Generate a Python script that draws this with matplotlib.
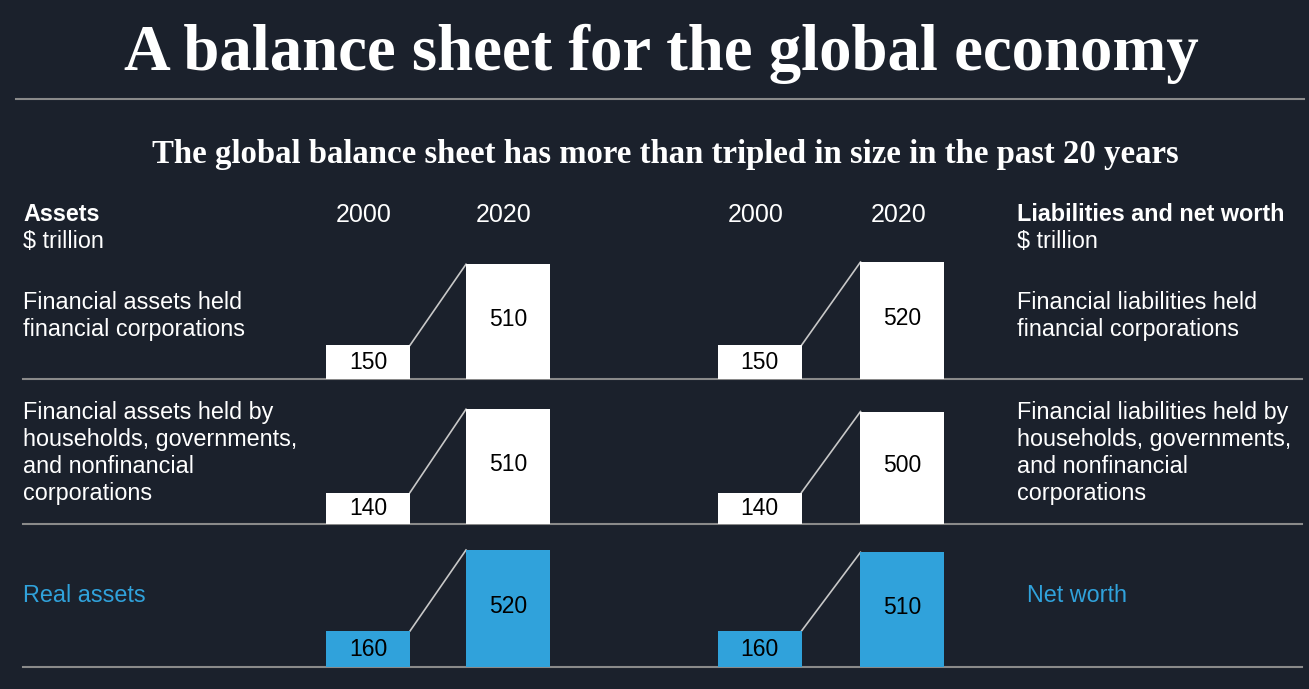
import matplotlib
matplotlib.use("Agg")
import matplotlib.pyplot as plt

# ---- data ($ trillion) ----
row_labels_left = [
    "Financial assets held\nfinancial corporations",
    "Financial assets held by\nhouseholds, governments,\nand nonfinancial\ncorporations",
    "Real assets",
]
row_labels_right = [
    "Financial liabilities held\nfinancial corporations",
    "Financial liabilities held by\nhouseholds, governments,\nand nonfinancial\ncorporations",
    "Net worth",
]
years = ["2000", "2020"]
assets_2000 = [150, 140, 160]
assets_2020 = [510, 510, 520]
liab_2000 = [150, 140, 160]
liab_2020 = [520, 500, 510]

# ---- style ----
W, H = 1309, 689
BG = "#1b212c"
WHITE = "#ffffff"
BLUE = "#30a2db"
RULE = "#8a8a8a"
LINK = "#c8c8c8"
SERIF = ["Liberation Serif", "DejaVu Serif"]
SANS = ["Liberation Sans", "DejaVu Sans"]
FS = 16.8

PX_PER_UNIT = 0.225          # bar pixels per $ trillion
baselines = [379, 524, 667]  # pixel y of each row's rule
bar_x = [368, 508, 759.5, 902.5]
bar_w = 84
row_colors = [WHITE, WHITE, BLUE]
label_colors = [WHITE, WHITE, BLUE]

fig = plt.figure(figsize=(W / 100, H / 100), dpi=100, facecolor=BG)
bg = fig.add_axes([0, 0, 1, 1])
bg.set_xlim(0, W)
bg.set_ylim(H, 0)
bg.axis("off")

bg.text(661, 70, "A balance sheet for the global economy", ha="center",
        va="baseline", color=WHITE, fontsize=46.6, fontweight="bold", family=SERIF)
bg.plot([16, 1304], [99, 99], color=RULE, lw=1.5)
bg.text(665, 163, "The global balance sheet has more than tripled in size in the past 20 years",
        ha="center", va="baseline", color=WHITE, fontsize=23.6, fontweight="bold",
        family=SERIF)

# column headers
bg.text(23, 221, "Assets", color=WHITE, fontsize=FS, fontweight="bold",
        family=SANS, va="baseline")
bg.text(23, 248, "$ trillion", color=WHITE, fontsize=FS, family=SANS, va="baseline")
bg.text(1017, 221, "Liabilities and net worth", color=WHITE, fontsize=FS,
        fontweight="bold", family=SANS, va="baseline")
bg.text(1017, 248, "$ trillion", color=WHITE, fontsize=FS, family=SANS, va="baseline")
for i, x in enumerate(bar_x):
    bg.text(x - 4, 222, years[i % 2], ha="center", va="baseline", color=WHITE,
            fontsize=18, family=SANS)

# row labels + rules
label_y = [316, 453, 596]
for i, base in enumerate(baselines):
    bg.plot([23, 1302], [base, base], color=RULE, lw=1.5, zorder=1)
    bg.text(23, label_y[i], row_labels_left[i], color=label_colors[i], fontsize=FS,
            family=SANS, va="center", linespacing=1.24)
    rx = 1027 if i == 2 else 1017
    bg.text(rx, label_y[i], row_labels_right[i], color=label_colors[i], fontsize=FS,
            family=SANS, va="center", linespacing=1.24)

# bars, one axes per row with y in $ trillion
panel_h = 140
for i, base in enumerate(baselines):
    ax = fig.add_axes([300 / W, (H - base) / H, 680 / W, panel_h / H])
    ax.set_xlim(300, 980)
    ax.set_ylim(0, panel_h / PX_PER_UNIT)
    ax.axis("off")
    ax.patch.set_alpha(0)
    vals = [assets_2000[i], assets_2020[i], liab_2000[i], liab_2020[i]]
    ax.bar(bar_x, vals, width=bar_w, color=row_colors[i], zorder=3)
    for j in (0, 2):
        ax.plot([bar_x[j] + bar_w / 2, bar_x[j + 1] - bar_w / 2],
                [vals[j], vals[j + 1]], color=LINK, lw=1.2, zorder=2)
    for j, (x, v) in enumerate(zip(bar_x, vals)):
        y = v / 2 if j % 2 == 0 else v * 0.52
        ax.text(x, y, f"{v}", ha="center", va="center", color="black",
                fontsize=16.5, family=SANS, zorder=4)

fig.savefig("out.png", dpi=100, facecolor=BG)
